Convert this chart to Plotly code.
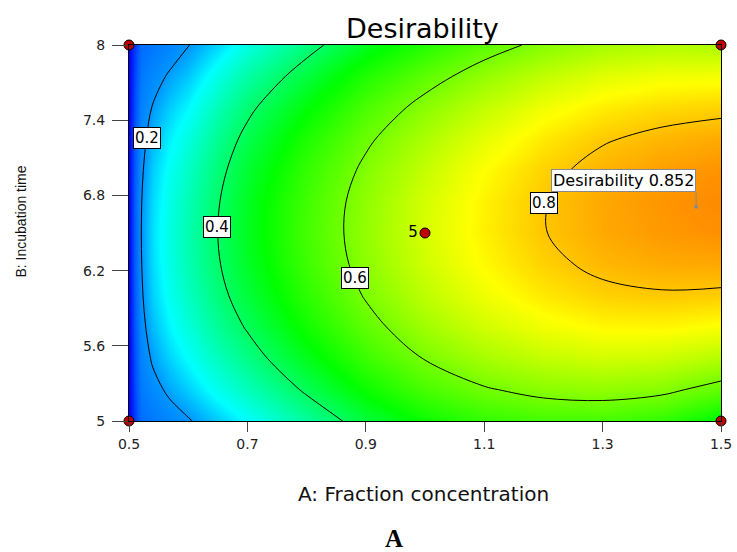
import plotly.graph_objects as go

# ---------------- data ----------------
a_values = [0.5, 0.51, 0.52, 0.54, 0.57, 0.6, 0.65, 0.7, 0.8, 0.9, 1.0, 1.1, 1.2, 1.3, 1.4, 1.5]
b_values = [5.0, 5.25, 5.5, 5.75, 6.0, 6.25, 6.5, 6.75, 7.0, 7.25, 7.5, 7.75, 8.0]

# rows follow b_values, columns follow a_values
desirability = [
    [0, .066, .132, .151, .175, .195, .234, .270, .352, .431, .490, .528, .547, .549, .527, .472],
    [0, .080, .153, .182, .212, .237, .284, .325, .410, .490, .552, .594, .619, .627, .615, .576],
    [0, .091, .169, .207, .242, .273, .325, .370, .459, .539, .603, .649, .679, .693, .688, .663],
    [0, .099, .182, .226, .266, .300, .357, .406, .497, .577, .643, .692, .726, .746, .748, .735],
    [0, .105, .191, .240, .282, .320, .381, .432, .524, .605, .673, .724, .762, .786, .794, .790],
    [0, .109, .196, .248, .292, .332, .395, .448, .542, .623, .691, .745, .786, .813, .826, .829],
    [0, .110, .198, .250, .295, .335, .400, .455, .549, .630, .699, .754, .798, .827, .844, .853],
    [0, .109, .196, .247, .291, .330, .396, .452, .546, .627, .696, .752, .797, .829, .848, .860],
    [0, .105, .190, .238, .280, .317, .383, .439, .532, .613, .681, .739, .785, .818, .838, .851],
    [0, .098, .180, .223, .262, .296, .362, .417, .509, .589, .656, .714, .761, .795, .814, .827],
    [0, .089, .167, .203, .238, .267, .331, .386, .475, .555, .621, .678, .725, .758, .777, .786],
    [0, .078, .150, .179, .208, .232, .291, .344, .431, .511, .574, .630, .676, .709, .726, .729],
    [0, .064, .129, .148, .172, .198, .242, .293, .377, .456, .516, .572, .616, .647, .660, .657],
]

contour_levels = [0.2, 0.4, 0.6, 0.8]
label_text = ["0.2", "0.4", "0.6", "0.8"]
label_a = [0.530, 0.648, 0.882, 1.201]
label_b = [7.26, 6.55, 6.14, 6.74]

design_a = [0.5, 0.5, 1.5, 1.5, 1.0]
design_b = [5.0, 8.0, 5.0, 8.0, 6.5]
design_text = ["", "", "", "", "5"]

opt_a = 1.458
opt_b = 6.71
opt_value = 0.852

x_ticks = [0.5, 0.7, 0.9, 1.1, 1.3, 1.5]
x_ticklabels = ["0.5", "0.7", "0.9", "1.1", "1.3", "1.5"]
y_ticks = [5, 5.6, 6.2, 6.8, 7.4, 8]
y_ticklabels = ["5", "5.6", "6.2", "6.8", "7.4", "8"]

title_text = "Desirability"
x_title = "A: Fraction concentration"
y_title = "B: Incubation time"
panel_label = "A"

# ---------------- figure ----------------
colorscale = [
    [0.0, "rgb(0,0,255)"],
    [0.1, "rgb(0,90,255)"],
    [0.2, "rgb(0,150,255)"],
    [0.27, "rgb(0,255,255)"],
    [0.48, "rgb(0,255,0)"],
    [0.74, "rgb(255,255,0)"],
    [1.0, "rgb(255,0,0)"],
]

fig = go.Figure()
fig.add_trace(go.Heatmap(
    x=a_values, y=b_values, z=desirability, zsmooth="best",
    colorscale=colorscale, zmin=0, zmax=1, showscale=False, hoverinfo="skip"))
fig.add_trace(go.Contour(
    x=a_values, y=b_values, z=desirability,
    contours=dict(start=contour_levels[0], end=contour_levels[-1],
                  size=contour_levels[1] - contour_levels[0],
                  coloring="none", showlabels=False),
    line=dict(color="black", width=1, smoothing=1),
    showscale=False, hoverinfo="skip"))
fig.add_trace(go.Scatter(
    x=[opt_a], y=[opt_b], mode="markers",
    marker=dict(color="#8a8a8a", size=4), hoverinfo="skip"))
fig.add_trace(go.Scatter(
    x=design_a, y=design_b, mode="markers+text", text=design_text,
    textposition="middle left",
    textfont=dict(family="DejaVu Sans", size=15, color="black"),
    marker=dict(color="#c00000", size=10, line=dict(color="black", width=1)),
    cliponaxis=False, hoverinfo="skip"))

annotations = []
for t, a, b in zip(label_text, label_a, label_b):
    annotations.append(dict(
        x=a, y=b, xref="x", yref="y", text=t, showarrow=False,
        bgcolor="white", bordercolor="black", borderwidth=1, borderpad=1,
        font=dict(family="DejaVu Sans", size=15, color="black")))

annotations.append(dict(
    x=opt_a, y=opt_b, xref="x", yref="y",
    text=f"Desirability {opt_value}", showarrow=True, arrowhead=0,
    arrowcolor="#8a8a8a", arrowwidth=1, ax=0, ay=-15,
    xanchor="right", yanchor="bottom",
    bgcolor="white", bordercolor="#8a8a8a", borderwidth=1, borderpad=1,
    font=dict(family="DejaVu Sans", size=16, color="black")))

annotations.append(dict(
    x=0.496, y=1.0426, xref="paper", yref="paper", text=title_text,
    showarrow=False, xanchor="center", yanchor="middle",
    font=dict(family="DejaVu Sans", size=27, color="black")))
annotations.append(dict(
    x=0.497, y=-0.194, xref="paper", yref="paper", text=x_title,
    showarrow=False, xanchor="center", yanchor="middle",
    font=dict(family="DejaVu Sans", size=20, color="#111")))
annotations.append(dict(
    x=-0.1824, y=0.5306, xref="paper", yref="paper", text=y_title,
    showarrow=False, textangle=-90, xanchor="center", yanchor="middle",
    font=dict(family="Liberation Sans", size=14, color="#111")))
annotations.append(dict(
    x=0.4476, y=-0.3112, xref="paper", yref="paper", text=f"<b>{panel_label}</b>",
    showarrow=False, xanchor="center", yanchor="middle",
    font=dict(family="Liberation Serif", size=25, color="black")))

axis_common = dict(
    ticks="outside", tickcolor="#444", tickwidth=1,
    showline=True, linecolor="black", linewidth=1, mirror=True,
    showgrid=False, zeroline=False, automargin=False,
    tickfont=dict(family="DejaVu Sans", size=14, color="#222"))

fig.update_layout(
    width=737, height=552,
    margin=dict(l=129, r=16, t=45, b=131, autoexpand=False),
    paper_bgcolor="white", plot_bgcolor="white",
    showlegend=False,
    xaxis=dict(range=[0.5, 1.5], tickvals=x_ticks, ticktext=x_ticklabels,
               ticklen=10, **axis_common),
    yaxis=dict(range=[5, 8], tickvals=y_ticks, ticktext=y_ticklabels,
               ticklen=16, ticklabelstandoff=4, **axis_common),
    annotations=annotations,
)

# remove the browser's default page margin so the 737x552 figure fills the window
fig.write_html(
    "out.html",
    config={"displayModeBar": False},
    post_script="document.body.style.margin='0';document.body.style.overflow='hidden';",
)
